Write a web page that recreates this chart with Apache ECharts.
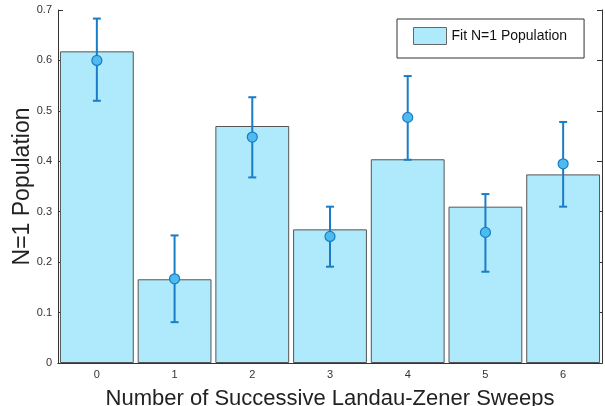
<!DOCTYPE html>
<html>
<head>
<meta charset="utf-8">
<script src="https://cdn.jsdelivr.net/npm/echarts@6/dist/echarts.min.js"></script>
<style>
  html, body { margin: 0; padding: 0; background: #fff; }
  #main { width: 605px; height: 406px; }
</style>
</head>
<body>
<div id="main"></div>
<script>
// sweeps on the x axis
var sweeps = ['0', '1', '2', '3', '4', '5', '6'];
// fitted bar heights
var fitPop = [0.618, 0.166, 0.470, 0.265, 0.404, 0.310, 0.374];
// measured points and their error bars
var measured = [0.600, 0.167, 0.448, 0.251, 0.487, 0.259, 0.395];
var errLow = [0.520, 0.081, 0.368, 0.191, 0.403, 0.181, 0.310];
var errHigh = [0.683, 0.253, 0.527, 0.310, 0.569, 0.335, 0.478];

var font = 'Liberation Sans, Helvetica, Arial, sans-serif';

var errData = sweeps.map(function (s, i) {
    return [i, errLow[i], errHigh[i]];
});

var myChart = echarts.init(document.getElementById('main'));

var option = {
    animation: false,
    textStyle: { fontFamily: font },
    grid: { left: 58, right: 3, top: 10, bottom: 43, containLabel: false, outerBoundsMode: 'none' },
    legend: {
        data: [{
            name: 'Fit N=1 Population',
            icon: 'rect',
            itemStyle: { color: '#aeeafc', borderColor: '#666', borderWidth: 1 }
        }],
        left: 397,
        top: 19,
        padding: [8, 17, 13, 16],
        borderColor: '#333',
        borderWidth: 1,
        itemWidth: 33,
        itemHeight: 17,
        itemGap: 4,
        textStyle: { fontFamily: font, fontSize: 14, color: '#111' }
    },
    xAxis: [{
        type: 'category',
        data: sweeps,
        name: 'Number of Successive Landau-Zener Sweeps',
        nameLocation: 'middle',
        nameGap: 25,
        nameMoveOverlap: false,
        nameTextStyle: { fontFamily: font, fontSize: 22, color: '#222' },
        axisLine: { lineStyle: { color: '#333' } },
        axisTick: { show: false },
        axisLabel: { fontSize: 11, color: '#333', margin: 6 }
    }, {
        type: 'category',
        data: sweeps,
        position: 'top',
        axisLine: { lineStyle: { color: '#333' } },
        axisTick: { inside: true, alignWithLabel: true, length: 5, lineStyle: { color: '#333' } },
        axisLabel: { show: false }
    }],
    yAxis: [{
        type: 'value',
        min: 0,
        max: 0.7,
        interval: 0.1,
        name: 'N=1 Population',
        nameLocation: 'middle',
        nameGap: 24,
        nameMoveOverlap: false,
        nameTextStyle: { fontFamily: font, fontSize: 23, color: '#222' },
        axisLine: { show: true, lineStyle: { color: '#333' } },
        axisTick: { show: true, inside: true, length: 5, lineStyle: { color: '#333' } },
        axisLabel: { fontSize: 11, color: '#333', margin: 6 },
        splitLine: { show: false }
    }, {
        type: 'value',
        min: 0,
        max: 0.7,
        interval: 0.1,
        position: 'right',
        axisLine: { show: true, lineStyle: { color: '#333' } },
        axisTick: { show: true, inside: true, length: 5, lineStyle: { color: '#333' } },
        axisLabel: { show: false },
        splitLine: { show: false }
    }],
    series: [
        {
            name: 'Fit N=1 Population',
            type: 'bar',
            data: fitPop,
            barCategoryGap: '5%',
            itemStyle: { color: '#aeeafc', borderColor: '#555', borderWidth: 1 }
        },
        {
            name: 'err',
            type: 'custom',
            data: errData,
            z: 5,
            renderItem: function (params, api) {
                var x = api.value(0);
                var lo = api.coord([x, api.value(1)]);
                var hi = api.coord([x, api.value(2)]);
                var cap = 4;
                var st = { stroke: '#1a7cc6', lineWidth: 2 };
                return {
                    type: 'group',
                    children: [
                        { type: 'line', shape: { x1: lo[0], y1: lo[1], x2: hi[0], y2: hi[1] }, style: st },
                        { type: 'line', shape: { x1: lo[0] - cap, y1: lo[1], x2: lo[0] + cap, y2: lo[1] }, style: st },
                        { type: 'line', shape: { x1: hi[0] - cap, y1: hi[1], x2: hi[0] + cap, y2: hi[1] }, style: st }
                    ]
                };
            }
        },
        {
            name: 'measured',
            type: 'scatter',
            data: measured,
            z: 6,
            symbol: 'circle',
            symbolSize: 10,
            itemStyle: { color: '#4dbbed', borderColor: '#1a7cc6', borderWidth: 1.2, opacity: 1 }
        }
    ]
};

myChart.setOption(option);
</script>
</body>
</html>
